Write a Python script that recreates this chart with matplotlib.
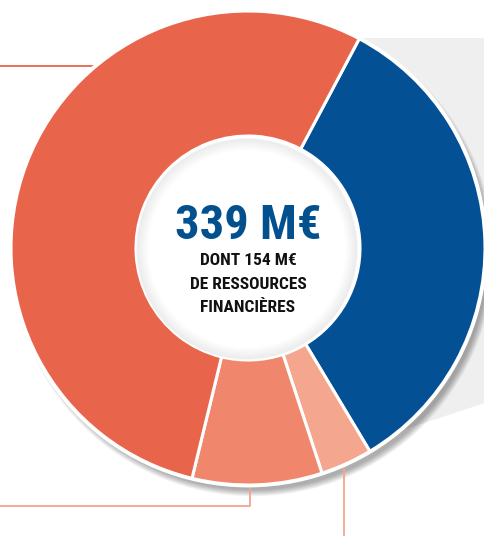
import matplotlib
matplotlib.use("Agg")
import matplotlib.pyplot as plt
from matplotlib.patches import Circle, Polygon
import numpy as np

# Data (M€)
categories = ["Ressources A", "Ressources B", "Ressources C", "Ressources D"]
values = [114, 12, 30, 183]
colors = ["#035194", "#F4A78E", "#F0876C", "#E8644A"]
total_label = "339 M€"
sub_lines = ["DONT 154 M€", "DE RESSOURCES", "FINANCIÈRES"]

W, H = 485, 536
fig = plt.figure(figsize=(W / 100, H / 100), dpi=100)
ax = fig.add_axes([0, 0, 1, 1])

cx, cy = 248, H - 248
R = 237
r_in = 112

# grey background shape
ax.add_patch(Polygon([(360, H - 38), (485, H - 38), (485, H - 403), (350, H - 447)],
                     closed=True, facecolor="#EFEFEF", edgecolor="none", zorder=0))

# drop shadow (bottom-right)
for i in range(10):
    ax.add_patch(Circle((cx + 5, cy - 7), R - 2 + i * 0.7, facecolor="#000000",
                        alpha=0.035, edgecolor="none", zorder=1))

wedges, _ = ax.pie(values, colors=colors, startangle=62, counterclock=False,
                   radius=R, center=(cx, cy),
                   wedgeprops=dict(width=R - r_in, edgecolor="white", linewidth=2.2))
for w in wedges:
    w.set_zorder(3)

# white outline around donut
ax.add_patch(Circle((cx, cy), R + 1, facecolor="none", edgecolor="white", linewidth=2, zorder=4))

# inner hole with white rim and soft inner shadow
ax.add_patch(Circle((cx, cy), r_in, facecolor="white", edgecolor="none", zorder=4))
for i in range(12):
    ax.add_patch(Circle((cx - 1, cy - 1), r_in - 2 - i * 1.0, facecolor="none", edgecolor="#000000",
                        linewidth=1.2, alpha=0.045 * (1 - i / 12), zorder=5))

# leader lines
ax.plot([0, 97], [H - 66, H - 66], color="#E8644A", lw=1.3, zorder=2, solid_capstyle="butt")
ax.plot([250, 250, 0], [H - 487, H - 506, H - 506], color="#F0A58C", lw=1.3, zorder=2)
ax.plot([344, 344], [H - 467, 0], color="#F4A78E", lw=1.3, zorder=2)

fam = ["Roboto Condensed", "DejaVu Sans"]
ax.text(cx, H - 239, total_label, ha="center", va="baseline", color="#03508F",
        fontsize=35, fontweight="bold", family=fam, fontstretch="condensed", zorder=6)
for yb, line in zip([265, 289, 312], sub_lines):
    ax.text(cx, H - yb, line, ha="center", va="baseline", color="#111111",
            fontsize=12.5, fontweight="bold", family=fam, fontstretch="condensed", zorder=6)

ax.set_xlim(0, W)
ax.set_ylim(0, H)
ax.set_aspect("equal")
ax.axis("off")
fig.savefig("out.png", dpi=100, facecolor="white")
